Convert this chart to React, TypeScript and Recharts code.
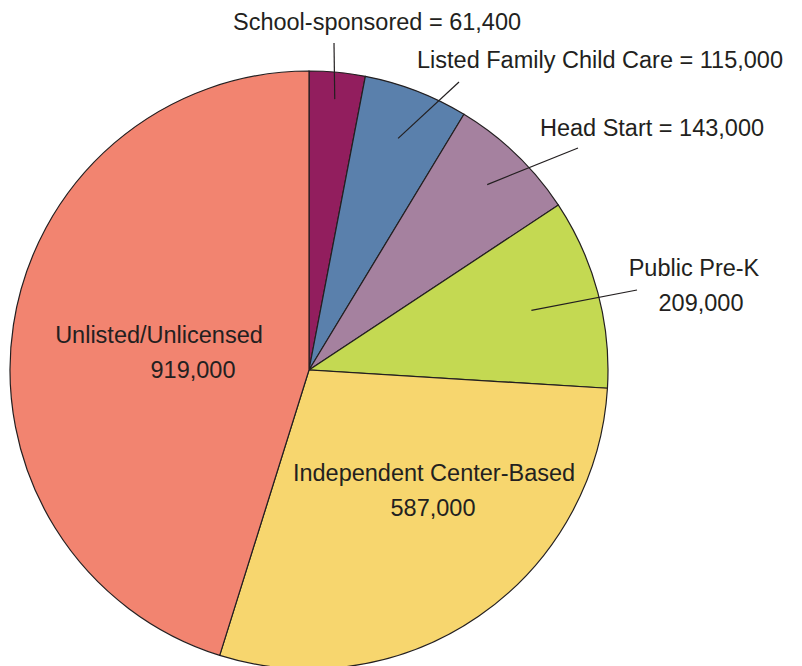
import React from 'react';
import { PieChart, Pie, Cell } from 'recharts';

const categories = [
  'School-sponsored',
  'Listed Family Child Care',
  'Head Start',
  'Public Pre-K',
  'Independent Center-Based',
  'Unlisted/Unlicensed',
];
const values = [61400, 115000, 143000, 209000, 587000, 919000];
const colors = ['#921E5E', '#5A80AC', '#A5819F', '#C4D952', '#F7D66E', '#F28470'];

// label text lines per slice
const labelLines = [
  ['School-sponsored = 61,400'],
  ['Listed Family Child Care = 115,000'],
  ['Head Start = 143,000'],
  ['Public Pre-K', '209,000'],
  ['Independent Center-Based', '587,000'],
  ['Unlisted/Unlicensed', '919,000'],
];

// where each label sits (first-line baseline, center x per line) and where the leader line ends
const labelLayout = [
  { xs: [377], y: 30, line: { x: 334, y: 43, r: 0.91 } },
  { xs: [600], y: 68, line: { x: 459, y: 82, r: 0.83 } },
  { xs: [652], y: 136, line: { x: 578, y: 148, r: 0.86 } },
  { xs: [694, 701], y: 276, line: { x: 637, y: 290, r: 0.77 } },
  { xs: [434, 433], y: 481, line: null },
  { xs: [159, 193], y: 343, line: null },
];

const data = categories.map((name, i) => ({ name, value: values[i] }));

const RAD = Math.PI / 180;

function renderLabel(props: any) {
  const { cx, cy, midAngle, outerRadius, index } = props;
  const lay = labelLayout[index];
  const lines = labelLines[index];
  let leader = null;
  if (lay.line) {
    const r = outerRadius * lay.line.r;
    const sx = cx + r * Math.cos(-midAngle * RAD);
    const sy = cy + r * Math.sin(-midAngle * RAD);
    leader = <line x1={sx} y1={sy} x2={lay.line.x} y2={lay.line.y} stroke="#231F20" strokeWidth={1.2} />;
  }
  return (
    <g key={`lbl-${index}`}>
      {leader}
      {lines.map((t, j) => (
        <text
          key={j}
          x={lay.xs[j]}
          y={lay.y + j * 35}
          textAnchor="middle"
          fill="#231F20"
          fontSize={23.5}
          fontFamily="'Liberation Sans', Arial, sans-serif"
        >
          {t}
        </text>
      ))}
    </g>
  );
}

export default function App() {
  return (
    <div style={{ position: 'absolute', left: 0, top: 0, background: '#fff' }}>
      <PieChart width={802} height={666} margin={{ top: 0, right: 0, bottom: 0, left: 0 }}>
        <Pie
          data={data}
          dataKey="value"
          nameKey="name"
          cx={309}
          cy={370}
          outerRadius={299}
          startAngle={90}
          endAngle={-270}
          stroke="#231F20"
          strokeWidth={1.2}
          label={renderLabel}
          labelLine={false}
          isAnimationActive={false}
        >
          {data.map((d, i) => (
            <Cell key={`cell-${i}`} fill={colors[i]} />
          ))}
        </Pie>
      </PieChart>
    </div>
  );
}
